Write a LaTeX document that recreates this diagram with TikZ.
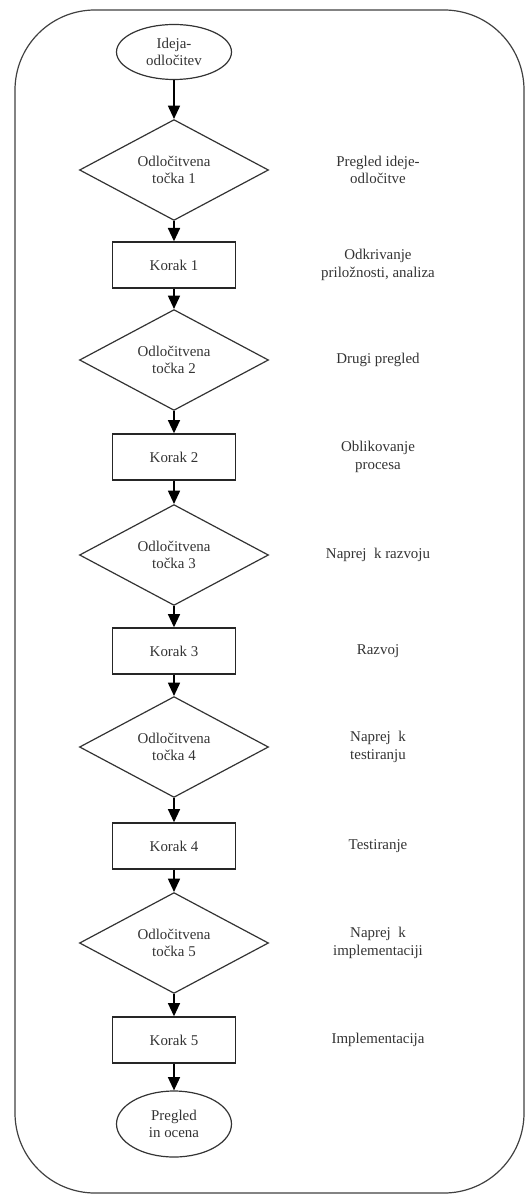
\documentclass[tikz,border=0pt]{standalone}
\usepackage{fontspec}
\setmainfont{Liberation Serif}
\usetikzlibrary{shapes.geometric, arrows.meta}

\begin{document}
\begin{tikzpicture}[x=0.75pt, y=-0.75pt,
		every node/.style={font=\fontsize{11.2}{13}\selectfont, align=center, text=black!80},
		odlocitev/.style={draw=black!80, diamond, inner sep=0pt, minimum width=141.75pt, minimum height=70.5pt, line width=0.9pt},
		korak/.style={draw=black!85, rectangle, minimum width=92.25pt, minimum height=34.5pt, line width=1pt},
		zacetek/.style={draw=black!80, ellipse, inner sep=0pt, minimum width=86.25pt, minimum height=41.25pt, line width=0.9pt},
		puscica/.style={-{Triangle[width=9pt, length=10pt]}, line width=1.3pt}]
		\def\sx{174};
		\def\ox{378};
		
		\useasboundingbox (0,0) rectangle (525,1194);
		\draw [black!75, line width=0.9pt, rounded corners=60pt] (15,10) rectangle (524,1193);
		
		\node [zacetek] (ideja) at (\sx,52) {Ideja-\\odločitev};
		\node [odlocitev] (tocka1) at (\sx,170) {Odločitvena\\točka 1};
		\node [korak] (korak1) at (\sx,265) {Korak 1};
		\node [odlocitev] (tocka2) at (\sx,360) {Odločitvena\\točka 2};
		\node [korak] (korak2) at (\sx,457) {Korak 2};
		\node [odlocitev] (tocka3) at (\sx,555) {Odločitvena\\točka 3};
		\node [korak] (korak3) at (\sx,651) {Korak 3};
		\node [odlocitev] (tocka4) at (\sx,747) {Odločitvena\\točka 4};
		\node [korak] (korak4) at (\sx,846) {Korak 4};
		\node [odlocitev] (tocka5) at (\sx,943) {Odločitvena\\točka 5};
		\node [korak] (korak5) at (\sx,1040) {Korak 5};
		\node [zacetek, minimum height=49.5pt] (ocena) at (\sx,1124) {Pregled\\in ocena};
		
		\foreach \a/\b in {ideja/tocka1, tocka1/korak1, korak1/tocka2, tocka2/korak2, korak2/tocka3, tocka3/korak3, korak3/tocka4, tocka4/korak4, korak4/tocka5, tocka5/korak5, korak5/ocena}
			\draw [puscica] (\a) -- (\b);
		
		\node (opis1) at (\ox,170) {Pregled ideje-\\odločitve};
		\node (opis2) at (\ox,265) {Odkrivanje\\priložnosti, analiza};
		\node (opis3) at (\ox,360) {Drugi pregled};
		\node (opis4) at (\ox,457) {Oblikovanje\\procesa};
		\node (opis5) at (\ox,555) {Naprej \ k razvoju};
		\node (opis6) at (\ox,651) {Razvoj};
		\node (opis7) at (\ox,747) {Naprej \ k\\testiranju};
		\node (opis8) at (\ox,846) {Testiranje};
		\node (opis9) at (\ox,943) {Naprej \ k\\implementaciji};
		\node (opis10) at (\ox,1040) {Implementacija};
	\end{tikzpicture}
\end{document}
